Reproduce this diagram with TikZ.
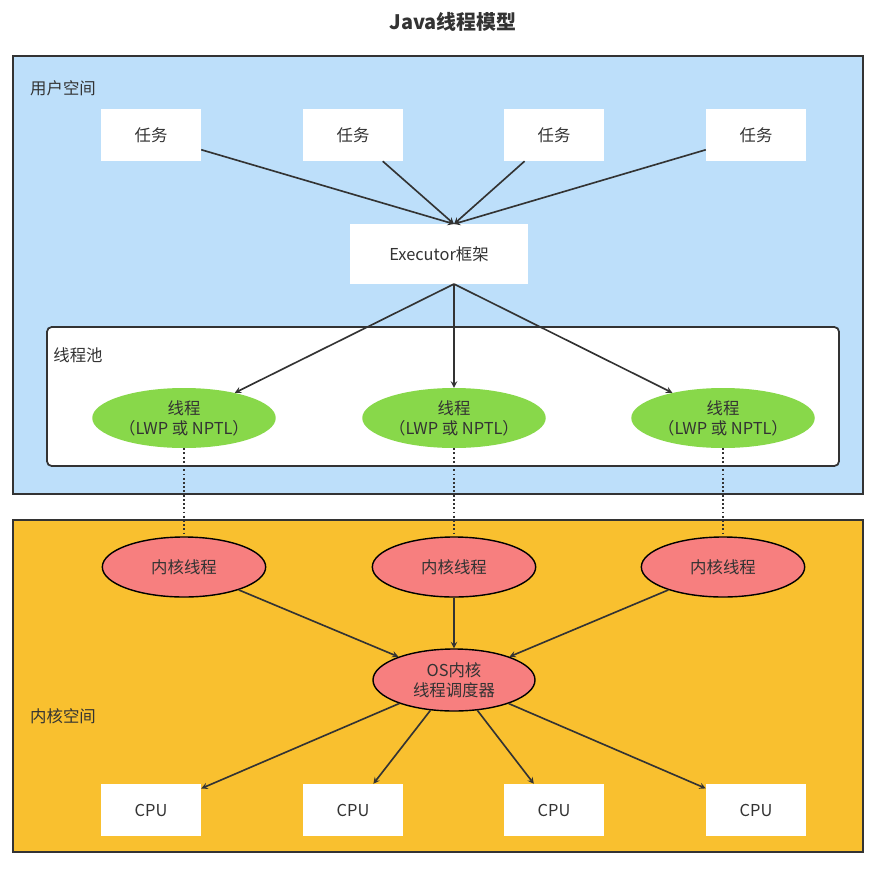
\documentclass[tikz,border=0pt]{standalone}
\usepackage{fontspec}
\setmainfont{Noto Sans CJK SC}
\usepackage{xcolor}
\usetikzlibrary{arrows,positioning,calc,shapes}
\definecolor{userbg}{HTML}{BDDFFA}
\definecolor{kernbg}{HTML}{F9C02F}
\definecolor{thrgreen}{HTML}{88D84A}
\definecolor{kred}{HTML}{F77F7F}
\definecolor{txt}{HTML}{333333}
\begin{document}
\begin{tikzpicture}[
    x=0.03cm, y=-0.03cm,
    font=\fontsize{14}{17}\selectfont, text=txt,
    area/.style={draw=txt, line width=1.5pt},
    box/.style={rectangle, fill=white, minimum width=3cm, minimum height=1.56cm, align=center},
    thr/.style={ellipse, fill=thrgreen, minimum width=4.8cm, minimum height=1.8cm, align=center, inner sep=0pt},
    kthr/.style={ellipse, fill=kred, draw=black, line width=1.2pt, minimum width=4.9cm, minimum height=1.8cm, align=center, inner sep=0pt},
    arrow/.style={-stealth, line width=1.4pt, draw=txt},
    link/.style={dotted, line width=1.6pt, draw=txt}
]
\useasboundingbox (0,0) rectangle (879,871);
\node[font=\fontsize{17}{20}\selectfont\bfseries] (title) at (453,22) {Java线程模型};
% user space
\draw[area, fill=userbg] (13,56) rectangle (863,494);
\node (user) at (63,88) {用户空间};
\foreach \x [count=\i] in {151,353,554,756}
  \node[box] (task\i) at (\x,135) {任务};
\node[box, minimum width=5.34cm, minimum height=1.8cm] (exec) at (439,254) {Executor框架};
\coordinate (execin) at (454,224);
\coordinate (execout) at (454,284);
\foreach \i in {1,...,4}
  \draw[arrow] (task\i) -- (execin);
% thread pool
\draw[area, fill=white, rounded corners=4pt] (47,327) rectangle (839,466);
\node (pool) at (78,355) {线程池};
\foreach \x [count=\i] in {184,454,723}
  \node[thr] (thr\i) at (\x,418) {线程\\（LWP 或 NPTL）};
\foreach \i in {1,2,3}
  \draw[arrow] (execout) -- (thr\i);
% kernel space
\draw[area, fill=kernbg] (13,520) rectangle (863,852);
\node (kern) at (63,716) {内核空间};
\foreach \x [count=\i] in {184,454,723}
  \node[kthr] (kt\i) at (\x,567) {内核线程};
\node[kthr, minimum width=4.86cm, minimum height=1.86cm] (sched) at (454,680) {OS内核\\线程调度器};
\foreach \i in {1,2,3} {
  \draw[link] (thr\i) -- (kt\i);
  \draw[arrow] (kt\i) -- (sched);
}
\foreach \x [count=\i] in {151,353,554,756} {
  \node[box] (cpu\i) at (\x,810) {CPU};
  \draw[arrow] (sched) -- (cpu\i);
}
\end{tikzpicture}
\end{document}
